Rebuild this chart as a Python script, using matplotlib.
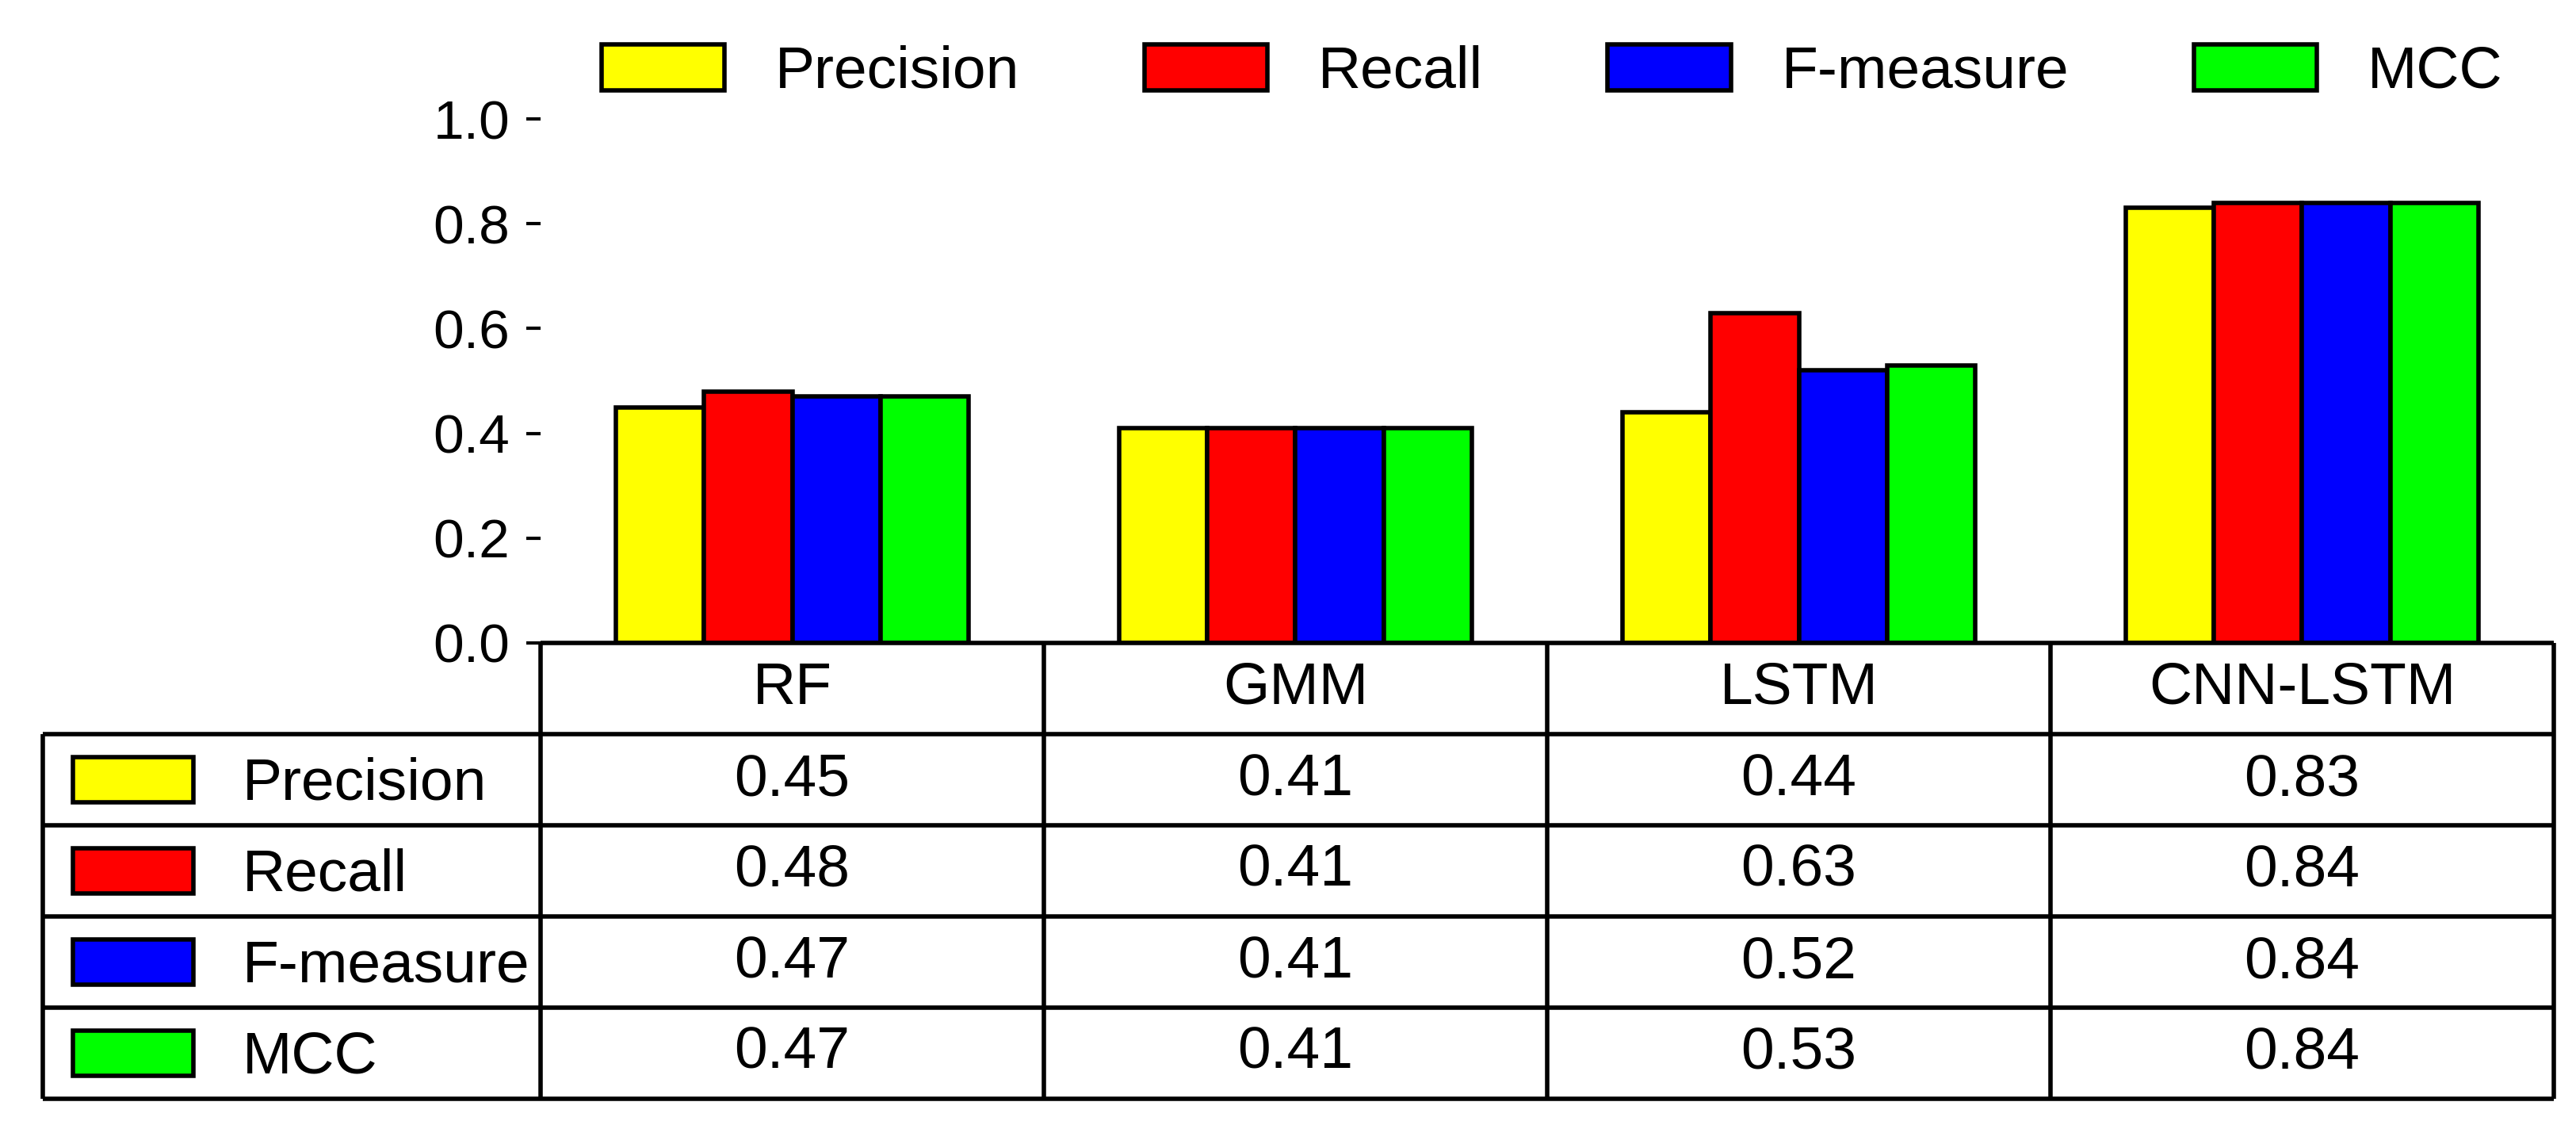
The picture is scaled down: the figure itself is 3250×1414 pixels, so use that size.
import matplotlib.pyplot as plt
from matplotlib.patches import Rectangle

plt.rcParams['font.family'] = ['Liberation Sans', 'DejaVu Sans']

modelos = ['RF', 'GMM', 'LSTM', 'CNN-LSTM']
metricas = ['Precision', 'Recall', 'F-measure', 'MCC']
colores = ['#FFFF00', '#FF0000', '#0000FF', '#00FF00']
precision = [0.45, 0.41, 0.44, 0.83]
recall = [0.48, 0.41, 0.63, 0.84]
f_measure = [0.47, 0.41, 0.52, 0.84]
mcc = [0.47, 0.41, 0.53, 0.84]
valores = [precision, recall, f_measure, mcc]

W, H = 3250, 1414
fig = plt.figure(figsize=(W / 100, H / 100), dpi=100)

# ejes de las barras
ax = fig.add_axes([682 / W, (H - 811) / H, (3222 - 682) / W, (811 - 150) / H])
ancho = 0.175
centros = [i + 0.5 for i in range(len(modelos))]
for j, (nombre, serie) in enumerate(zip(metricas, valores)):
    xs = [c + (j - 1.5) * ancho for c in centros]
    ax.bar(xs, serie, width=ancho, color=colores[j], edgecolor='black',
           linewidth=4, label=nombre)
ax.set_xlim(0, 4)
ax.set_ylim(0, 1.0)
ax.set_yticks([0.0, 0.2, 0.4, 0.6, 0.8, 1.0])
ax.set_yticklabels(['%.1f' % v for v in [0.0, 0.2, 0.4, 0.6, 0.8, 1.0]])
ax.set_xticks([])
for s in ax.spines.values():
    s.set_visible(False)
ax.tick_params(axis='y', direction='out', length=13, width=3, pad=15,
               labelsize=50)

# leyenda superior
fig.legend(loc='center', bbox_to_anchor=(1958 / W, 1 - 91 / H), ncol=4,
           frameon=False, fontsize=54, handlelength=2.07, handleheight=0.8,
           handletextpad=0.85, columnspacing=2.1)

# tabla de valores debajo
axt = fig.add_axes([54 / W, (H - 1386) / H, (3222 - 54) / W, (1386 - 811) / H])
x0 = -628 / 635
axt.set_xlim(x0, 4)
axt.set_ylim(5, 0)
axt.axis('off')
lw = 4
axt.hlines(0, 0, 4, colors='black', linewidth=lw, clip_on=False)
for r in range(1, 6):
    axt.hlines(r, x0, 4, colors='black', linewidth=lw, clip_on=False)
for c in range(0, 5):
    axt.vlines(c, 0, 5, colors='black', linewidth=lw, clip_on=False)
axt.vlines(x0, 1, 5, colors='black', linewidth=lw, clip_on=False)

for i, m in enumerate(modelos):
    axt.text(i + 0.5, 0.5, m, ha='center', va='center', fontsize=54)
for j, (nombre, serie) in enumerate(zip(metricas, valores)):
    fila = j + 1.5
    axt.add_patch(Rectangle((x0 + 38 / 635, fila - 0.25), 152 / 635, 0.5,
                            facecolor=colores[j], edgecolor='black',
                            linewidth=4, clip_on=False))
    axt.text(x0 + 252 / 635, fila + 0.05, nombre, ha='left', va='center',
             fontsize=54)
    for i, v in enumerate(serie):
        axt.text(i + 0.5, fila, '%.2f' % v, ha='center', va='center',
                 fontsize=54)

fig.savefig('out.png', dpi=100, facecolor='white')
